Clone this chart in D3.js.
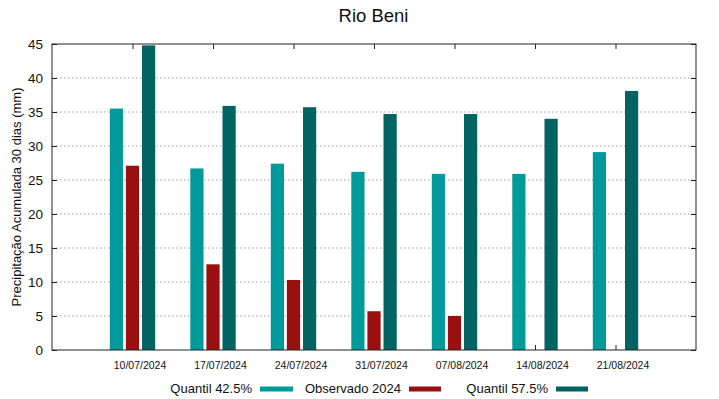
<!DOCTYPE html>
<html>
<head>
<meta charset="utf-8">
<script src="https://cdn.jsdelivr.net/npm/d3@7"></script>
<style>
  html, body { margin: 0; padding: 0; background: #fff; }
  svg { display: block; font-family: "Liberation Sans", Arial, sans-serif; }
</style>
</head>
<body>
<svg id="chart" width="719" height="399"></svg>
<script>
const categories = ["10/07/2024", "17/07/2024", "24/07/2024", "31/07/2024", "07/08/2024", "14/08/2024", "21/08/2024"];
const quantil425 = [35.5, 26.7, 27.4, 26.2, 25.9, 25.9, 29.1];
const observado2024 = [27.1, 12.6, 10.3, 5.7, 5.0, null, null];
const quantil575 = [44.8, 35.9, 35.7, 34.7, 34.7, 34.0, 38.1];
const yTicks = [0, 5, 10, 15, 20, 25, 30, 35, 40, 45];
const seriesNames = ["Quantil 42.5%", "Observado 2024", "Quantil 57.5%"];
const seriesColors = ["#009a9a", "#9a0f0f", "#006462"];

const svg = d3.select("#chart");
const L = 52, R = 696, T = 44, B = 350;

const x = d3.scaleLinear().domain([-1, categories.length]).range([L, R]);
const y = d3.scaleLinear().domain([0, 45]).range([B, T]);
const unit = (x(1) - x(0)) / 5;
const barW = unit * 0.82;

// grid
svg.append("g").selectAll("line")
  .data(yTicks.filter(d => d > 0 && d < 45))
  .join("line")
  .attr("x1", L).attr("x2", R)
  .attr("y1", d => y(d)).attr("y2", d => y(d))
  .attr("stroke", "#a0a0a0").attr("stroke-width", 1)
  .attr("stroke-dasharray", "1.5,2.5");

// bars
const series = [quantil425, observado2024, quantil575];
series.forEach((vals, si) => {
  svg.append("g").selectAll("rect")
    .data(vals.map((v, i) => ({ v, i })).filter(d => d.v != null))
    .join("rect")
    .attr("x", d => x(d.i) + (si - 1) * unit - barW / 2)
    .attr("width", barW)
    .attr("y", d => y(d.v))
    .attr("height", d => y(0) - y(d.v))
    .attr("fill", seriesColors[si]);
});

// axes (left with labels, others ticks only)
const leftAxis = d3.axisLeft(y).tickValues(yTicks).tickSize(-5).tickPadding(9).tickFormat(d3.format("d"));
const gL = svg.append("g").attr("transform", `translate(${L},0)`).call(leftAxis);
gL.select(".domain").remove();
gL.selectAll("line").attr("stroke", "#222");
gL.selectAll("text").attr("font-size", "13.5px").attr("fill", "#111")
  .attr("font-family", "Liberation Sans, Arial, sans-serif");

const rightAxis = d3.axisRight(y).tickValues(yTicks).tickSize(-5).tickFormat("");
const gR = svg.append("g").attr("transform", `translate(${R},0)`).call(rightAxis);
gR.select(".domain").remove();
gR.selectAll("line").attr("stroke", "#222");

const idx = categories.map((c, i) => i);
const bottomAxis = d3.axisBottom(x).tickValues(idx).tickSize(-5).tickPadding(12)
  .tickFormat(i => categories[i]);
const gB = svg.append("g").attr("transform", `translate(0,${B})`).call(bottomAxis);
gB.select(".domain").remove();
gB.selectAll("line").attr("stroke", "#222");
gB.selectAll("text").attr("font-size", "10.5px").attr("fill", "#111")
  .attr("dx", 7).attr("font-family", "Liberation Sans, Arial, sans-serif");
// keep bars above bottom ticks
gB.lower();

const topAxis = d3.axisTop(x).tickValues(idx).tickSize(-5).tickFormat("");
const gT = svg.append("g").attr("transform", `translate(0,${T})`).call(topAxis);
gT.select(".domain").remove();
gT.selectAll("line").attr("stroke", "#222");

// border
svg.append("rect").attr("x", L).attr("y", T).attr("width", R - L).attr("height", B - T)
  .attr("fill", "none").attr("stroke", "#222").attr("stroke-width", 1);

// title
svg.append("text").attr("x", 373.5).attr("y", 22).attr("text-anchor", "middle")
  .attr("font-size", "18.5px").attr("fill", "#111").text("Rio Beni");

// y label
svg.append("text").attr("transform", `translate(21,197) rotate(-90)`)
  .attr("text-anchor", "middle").attr("font-size", "13px").attr("fill", "#111")
  .text("Precipitação Acumulada 30 dias (mm)");

// legend
const legendTextRight = [252, 401, 548];
const legendSample = [[260, 293], [409, 441], [556, 588]];
seriesNames.forEach((n, i) => {
  svg.append("text").attr("x", legendTextRight[i]).attr("y", 392.5).attr("text-anchor", "end")
    .attr("font-size", "13px").attr("fill", "#111").text(n);
  svg.append("rect").attr("x", legendSample[i][0]).attr("y", 386.5)
    .attr("width", legendSample[i][1] - legendSample[i][0]).attr("height", 5)
    .attr("fill", seriesColors[i]);
});
</script>
</body>
</html>
